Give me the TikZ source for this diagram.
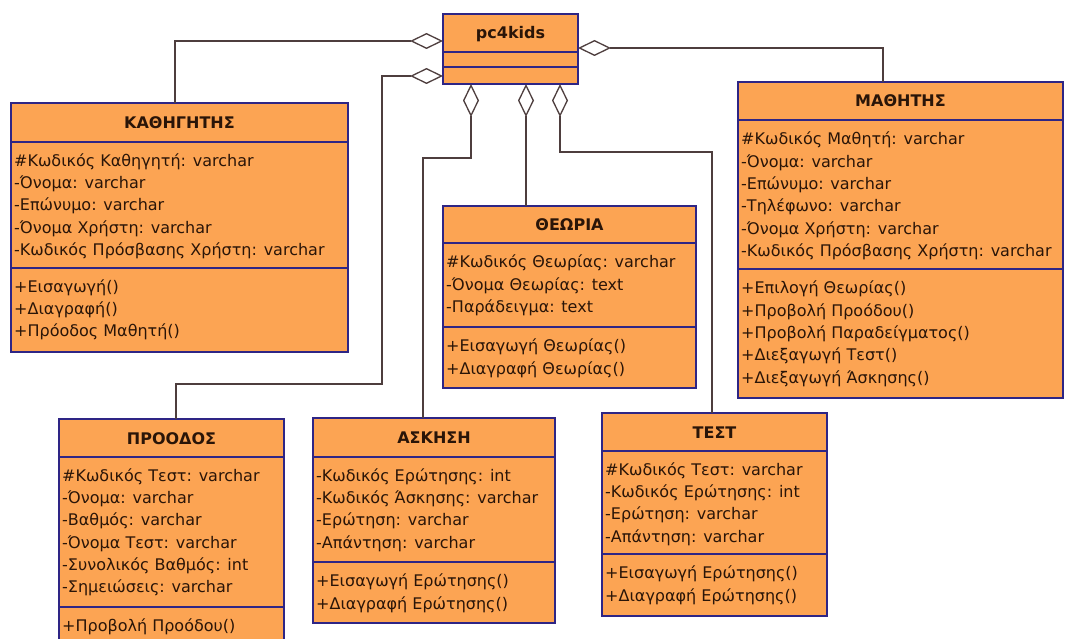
\documentclass[tikz,border=0pt]{standalone}
\usepackage{fontspec}
\setmainfont{DejaVu Sans}
\usetikzlibrary{arrows.meta}

\definecolor{classfill}{HTML}{FCA453}
\definecolor{classedge}{HTML}{2E2585}
\definecolor{wire}{HTML}{4E3E3E}
\definecolor{ink}{HTML}{2A1508}

\tikzset{
  classframe/.style={draw=classedge, fill=classfill, line width=1.2pt,
    inner sep=0pt, outer sep=0pt, rectangle, anchor=north west},
  classrule/.style={draw=classedge, line width=1.2pt},
  titletext/.style={font=\fontsize{16}{19}\selectfont\bfseries, text=ink,
    inner sep=0pt, anchor=base},
  rowtext/.style={font=\fontsize{16}{19}\selectfont, text=ink,
    inner sep=0pt, anchor=base west},
  agg/.style={draw=wire, line width=1.3pt,
    -{Diamond[open, length=33pt, width=16pt, line width=1.3pt]}},
}

% box with title compartment and two rules
% #1 name, #2 left, #3 right, #4 top, #5 first rule, #6 second rule, #7 bottom, #8 title
\newcommand\umlclass[8]{%
  \node[classframe, minimum width={(#3-#2)*1pt}, minimum height={(#7-#4)*1pt}]
    (#1) at (#2,#4) {};
  \draw[classrule] (#2,#5) -- (#3,#5);
  \draw[classrule] (#2,#6) -- (#3,#6);
  \node[titletext] (#1-title) at ({(#2+#3)/2},{(#4+#5)/2+6}) {#8};
}
% text rows: #1 name prefix, #2 left, #3 centre of the first row, #4 rows
\newcommand\umlrows[4]{%
  \foreach \t [count=\i] in {#4}
    \node[rowtext] (#1-\i) at ({#2+3},{#3+(\i-1)*22.3+5.8}) {\t};
}

\begin{document}
\begin{tikzpicture}[x=1pt, y=-1pt]
\useasboundingbox (0,0) rectangle (1065,639);
\clip (0,0) rectangle (1065,639);
\fill[white] (0,0) rectangle (1065,639);

% central class
\umlclass{pc}{443}{578}{14}{52}{67}{84}{pc4kids}

% ΚΑΘΗΓΗΤΗΣ
\umlclass{kath}{11}{348}{103}{142}{268}{352}{ΚΑΘΗΓΗΤΗΣ}
\umlrows{kath-a}{11}{160.5}{{\#Κωδικός Καθηγητή: varchar},{-Όνομα: varchar},{-Επώνυμο: varchar},{-Όνομα Χρήστη: varchar},{-Κωδικός Πρόσβασης Χρήστη: varchar}}
\umlrows{kath-o}{11}{286.5}{{+Εισαγωγή()},{+Διαγραφή()},{+Πρόοδος Μαθητή()}}

% ΜΑΘΗΤΗΣ
\umlclass{math}{738}{1063}{82}{120}{269}{398}{ΜΑΘΗΤΗΣ}
\umlrows{math-a}{738}{139}{{\#Κωδικός Μαθητή: varchar},{-Όνομα: varchar},{-Επώνυμο: varchar},{-Τηλέφωνο: varchar},{-Όνομα Χρήστη: varchar},{-Κωδικός Πρόσβασης Χρήστη: varchar}}
\umlrows{math-o}{738}{288}{{+Επιλογή Θεωρίας()},{+Προβολή Προόδου()},{+Προβολή Παραδείγματος()},{+Διεξαγωγή Τεστ()},{+Διεξαγωγή Άσκησης()}}

% ΘΕΩΡΙΑ
\umlclass{theo}{443}{696}{206}{243}{327}{388}{ΘΕΩΡΙΑ}
\umlrows{theo-a}{443}{262}{{\#Κωδικός Θεωρίας: varchar},{-Όνομα Θεωρίας: text},{-Παράδειγμα: text}}
\umlrows{theo-o}{443}{346}{{+Εισαγωγή Θεωρίας()},{+Διαγραφή Θεωρίας()}}

% ΠΡΟΟΔΟΣ
\umlclass{proo}{59}{284}{419}{457}{607}{650}{ΠΡΟΟΔΟΣ}
\umlrows{proo-a}{59}{475.5}{{\#Κωδικός Τεστ: varchar},{-Όνομα: varchar},{-Βαθμός: varchar},{-Όνομα Τεστ: varchar},{-Συνολικός Βαθμός: int},{-Σημειώσεις: varchar}}
\umlrows{proo-o}{59}{626}{{+Προβολή Προόδου()}}

% ΑΣΚΗΣΗ
\umlclass{ask}{313}{555}{418}{457}{562}{623}{ΑΣΚΗΣΗ}
\umlrows{ask-a}{313}{475.5}{{-Κωδικός Ερώτησης: int},{-Κωδικός Άσκησης: varchar},{-Ερώτηση: varchar},{-Απάντηση: varchar}}
\umlrows{ask-o}{313}{581}{{+Εισαγωγή Ερώτησης()},{+Διαγραφή Ερώτησης()}}

% ΤΕΣΤ
\umlclass{test}{602}{827}{413}{451}{554}{616}{ΤΕΣΤ}
\umlrows{test-a}{602}{469.5}{{\#Κωδικός Τεστ: varchar},{-Κωδικός Ερώτησης: int},{-Ερώτηση: varchar},{-Απάντηση: varchar}}
\umlrows{test-o}{602}{573}{{+Εισαγωγή Ερώτησης()},{+Διαγραφή Ερώτησης()}}

% bends of the aggregation wires
\coordinate (bend-proo) at (176,384);
\coordinate (bend-ask) at (423,158);
\coordinate (bend-test) at (712,152);

% aggregations towards pc4kids
\draw[agg] (175,0 |- kath.north) |- (pc.west |- 0,41);
\draw[agg] (bend-proo |- proo.north) -- (bend-proo) -| (382,76) -- (pc.west |- 0,76);
\draw[agg] (883,0 |- math.north) |- (pc.east |- 0,48);
\draw[agg] (bend-ask |- ask.north) -- (bend-ask) -| (471,0 |- pc.south);
\draw[agg] (526,0 |- theo.north) -- (526,0 |- pc.south);
\draw[agg] (bend-test |- test.north) -- (bend-test) -| (560,0 |- pc.south);
\end{tikzpicture}
\end{document}
